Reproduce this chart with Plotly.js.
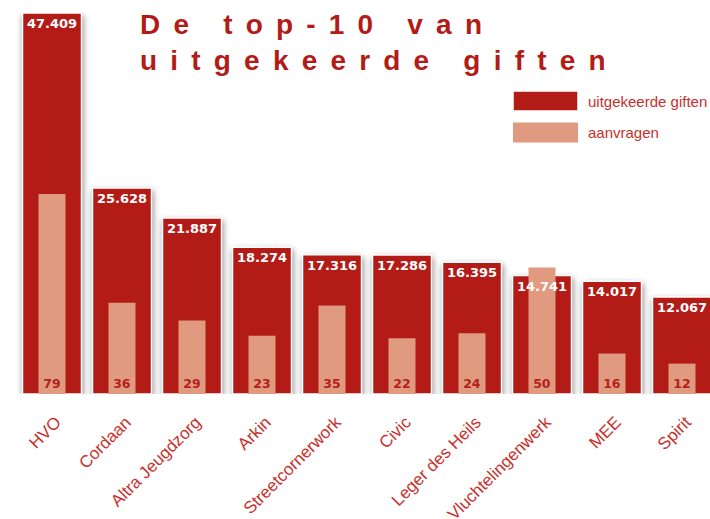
<!DOCTYPE html>
<html>
<head>
<meta charset="utf-8">
<script src="https://cdn.plot.ly/plotly-3.0.1.min.js"></script>
<style>
html, body { margin: 0; padding: 0; background: #ffffff; }
#chart { width: 710px; height: 519px; }
.gtitle { letter-spacing: 13.2px; }
.overplot > .xy .barlayer .point path { filter: drop-shadow(1px 3px 3px rgba(0,0,0,0.45)); }
</style>
</head>
<body>
<div id="chart"></div>
<script>
const categories = ["HVO", "Cordaan", "Altra Jeugdzorg", "Arkin", "Streetcornerwork", "Civic", "Leger des Heils", "Vluchtelingenwerk", "MEE", "Spirit"];
const giften = [47409, 25628, 21887, 18274, 17316, 17286, 16395, 14741, 14017, 12067];
const aanvragen = [79, 36, 29, 23, 35, 22, 24, 50, 16, 12];

const RED = "#b31b17";
const SALMON = "#df9a80";

const traceGiften = {
  type: "bar", name: "uitgekeerde giften", legendgroup: "a",
  x: categories, y: giften, xaxis: "x", yaxis: "y",
  width: 0.843,
  marker: { color: RED, line: { color: "#ffffff", width: 1.5 } },
  cliponaxis: false, hoverinfo: "skip"
};
const traceAanvragen = {
  type: "bar", name: "aanvragen", legendgroup: "b",
  x: categories, y: aanvragen, xaxis: "x", yaxis: "y2",
  width: 0.386,
  marker: { color: SALMON, line: { width: 0 } },
  text: aanvragen, texttemplate: "%{y}", textposition: "inside", insidetextanchor: "start",
  textangle: 0, constraintext: "none",
  textfont: { family: "DejaVu Sans", size: 12.5, color: "#b51f1a", weight: "bold" },
  cliponaxis: false, hoverinfo: "skip"
};
// value labels of the giften bars, drawn on top of everything
const traceGiftenLabels = {
  type: "bar", name: "uitgekeerde giften", showlegend: false,
  x: categories, y: giften, xaxis: "x", yaxis: "y3",
  width: 0.843,
  marker: { color: "rgba(0,0,0,0)", line: { width: 0 } },
  text: giften, texttemplate: "%{y:,.0f}", textposition: "inside", insidetextanchor: "end",
  textangle: 0, constraintext: "none",
  textfont: { family: "DejaVu Sans", size: 13, color: "#ffffff", weight: "bold" },
  cliponaxis: false, hoverinfo: "skip"
};

const layout = {
  width: 710, height: 519,
  margin: { l: 17, r: 0, t: 13, b: 125, pad: 0, autoexpand: false },
  paper_bgcolor: "#ffffff", plot_bgcolor: "rgba(0,0,0,0)",
  separators: ",.",
  title: {
    text: "De top-10 van<br>uitgekeerde giften",
    font: { family: "Liberation Sans", size: 28, color: RED, weight: "bold" },
    xref: "container", x: 140/710, xanchor: "left",
    yref: "container", y: 1 - 34/519, yanchor: "top"
  },
  xaxis: {
    range: [-0.5, 9.4], showgrid: false, zeroline: false, showline: false, ticks: "",
    tickangle: -45, fixedrange: true, ticklabelstandoff: 14, ticklabelshift: 4, automargin: false,
    tickfont: { family: "Liberation Sans", size: 17, color: "#c8302c" }
  },
  yaxis: { range: [0, 47409], visible: false, showgrid: false, zeroline: false, automargin: false },
  yaxis2: { range: [0, 150.5], overlaying: "y", visible: false, showgrid: false, zeroline: false, automargin: false },
  yaxis3: { range: [0, 47409], overlaying: "y", visible: false, showgrid: false, zeroline: false, automargin: false },
  showlegend: true,
  legend: {
    x: (513 - 17) / 693, xanchor: "left", y: 0.812, yanchor: "top",
    font: { family: "Liberation Sans", size: 15, color: "#c8302c" },
    itemwidth: 65, tracegroupgap: 9, bgcolor: "rgba(0,0,0,0)"
  },
  bargap: 0.15
};

Plotly.newPlot("chart", [traceGiften, traceAanvragen, traceGiftenLabels], layout, { staticPlot: true, displayModeBar: false }).then(function () {
  document.querySelectorAll(".legend .legendpoints path").forEach(function (p) {
    p.setAttribute("d", "M27.5,10H-37.5V-10H27.5Z");
  });
});
</script>
</body>
</html>
